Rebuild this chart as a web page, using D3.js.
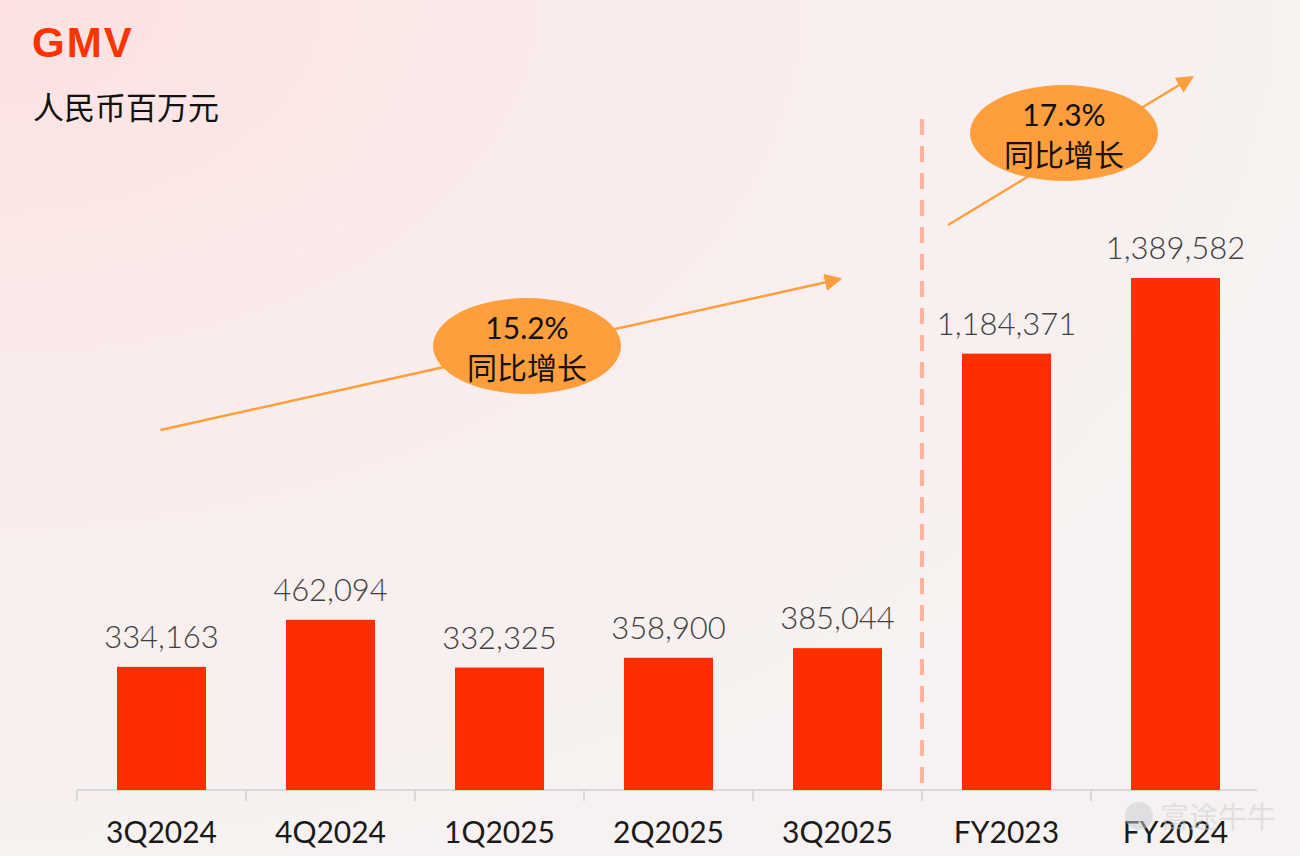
<!DOCTYPE html>
<html>
<head>
<meta charset="utf-8">
<script src="https://cdn.jsdelivr.net/npm/d3@7/dist/d3.min.js"></script>
<style>
  html, body { margin: 0; padding: 0; overflow: hidden; }
  svg { display: block; }
</style>
</head>
<body>
<svg id="chart" width="1300" height="856"></svg>
<script>
// ---- data ----
const categories = ["3Q2024", "4Q2024", "1Q2025", "2Q2025", "3Q2025", "FY2023", "FY2024"];
const gmvValues = [334163, 462094, 332325, 358900, 385044, 1184371, 1389582];
const growthLabels = ["15.2%", "17.3%"];
const growthText = "同比增长";
const titleText = "GMV";
const unitText = "人民币百万元";

// ---- layout ----
const W = 1300, H = 856;
const svg = d3.select("#chart");

// background gradient
const defs = svg.append("defs");
const bg = defs.append("radialGradient").attr("id", "bg")
  .attr("cx", 0).attr("cy", 0).attr("r", 1.1)
  .attr("gradientUnits", "objectBoundingBox");
bg.append("stop").attr("offset", "0%").attr("stop-color", "#FDE1E1");
bg.append("stop").attr("offset", "45%").attr("stop-color", "#F9EDEC");
bg.append("stop").attr("offset", "100%").attr("stop-color", "#F7F2F2");
svg.append("rect").attr("width", W).attr("height", H).attr("fill", "url(#bg)");

const orange = "#FF9E3D";
defs.append("marker").attr("id", "arrow")
  .attr("viewBox", "0 0 10 10").attr("refX", 9).attr("refY", 5)
  .attr("markerWidth", 7).attr("markerHeight", 7)
  .attr("markerUnits", "strokeWidth")
  .attr("orient", "auto")
  .append("path").attr("d", "M0,0 L10,5 L0,10 Z").attr("fill", orange);

const x = d3.scaleBand().domain(categories).range([77, 1260])
  .paddingInner(0.4734).paddingOuter(0.2367);
const y = d3.scaleLinear().domain([0, 1600000]).range([790, 200.5]);
const step = x.step();
const gap = step - x.bandwidth();

// title
svg.append("text").attr("x", 32).attr("y", 57)
  .attr("font-family", "Liberation Sans, Arial, sans-serif")
  .attr("font-weight", "bold").attr("font-size", 42)
  .attr("letter-spacing", 2)
  .attr("fill", "#FF3300").text(titleText);
svg.append("text").attr("x", 33).attr("y", 119)
  .attr("font-family", "Noto Sans CJK SC, sans-serif")
  .attr("font-size", 31).attr("fill", "#111").text(unitText);

// dashed separator before FY columns
const sepX = x("FY2023") - gap / 2;
svg.append("line").attr("x1", sepX).attr("x2", sepX)
  .attr("y1", 119).attr("y2", 790)
  .attr("stroke", "#FFB39C").attr("stroke-width", 4)
  .attr("stroke-dasharray", "16,11");

// axis baseline & ticks
const axisColor = "#D9D9D9";
svg.append("line").attr("x1", 77).attr("x2", 1257)
  .attr("y1", 790).attr("y2", 790)
  .attr("stroke", axisColor).attr("stroke-width", 2);
svg.selectAll(".tick").data(categories).enter().append("line")
  .attr("x1", d => x(d) - gap / 2).attr("x2", d => x(d) - gap / 2)
  .attr("y1", 790).attr("y2", 801)
  .attr("stroke", axisColor).attr("stroke-width", 2);

// bars
svg.selectAll(".bar").data(categories).enter().append("rect")
  .attr("x", d => x(d))
  .attr("y", (d, i) => y(gmvValues[i]))
  .attr("width", x.bandwidth())
  .attr("height", (d, i) => 790 - y(gmvValues[i]))
  .attr("fill", "#FF2D00");

// value labels
const fmt = d3.format(",");
svg.selectAll(".val").data(categories).enter().append("text")
  .attr("x", d => x(d) + x.bandwidth() / 2)
  .attr("y", (d, i) => y(gmvValues[i]) - 19)
  .attr("text-anchor", "middle")
  .attr("font-family", "Lato, sans-serif").attr("font-size", 31)
  .attr("font-weight", 300)
  .attr("fill", "#3F3F3F")
  .text((d, i) => fmt(gmvValues[i]));

// category labels
svg.selectAll(".cat").data(categories).enter().append("text")
  .attr("x", d => x(d) + x.bandwidth() / 2)
  .attr("y", 843)
  .attr("text-anchor", "middle")
  .attr("font-family", "Lato, sans-serif").attr("font-size", 30)
  .attr("fill", "#1A1A1A")
  .text(d => d);

// growth annotations
const cx = c => x(c) + x.bandwidth() / 2;
const annotations = [
  { x1: cx("3Q2024") - 1, y1: 430, x2: cx("3Q2025") + 3, y2: 279, ex: 527, ey: 346, label: growthLabels[0] },
  { x1: sepX + 26, y1: 225, x2: cx("FY2024") + 17, y2: 77, ex: 1064, ey: 133, label: growthLabels[1] }
];
annotations.forEach(a => {
  svg.append("line").attr("x1", a.x1).attr("y1", a.y1)
    .attr("x2", a.x2).attr("y2", a.y2)
    .attr("stroke", orange).attr("stroke-width", 2.5)
    .attr("marker-end", "url(#arrow)");
  svg.append("ellipse").attr("cx", a.ex).attr("cy", a.ey)
    .attr("rx", 94).attr("ry", 48).attr("fill", orange);
  svg.append("text").attr("x", a.ex).attr("y", a.ey - 7)
    .attr("text-anchor", "middle")
    .attr("font-family", "Lato, sans-serif").attr("font-size", 30)
    .attr("fill", "#111").text(a.label);
  svg.append("text").attr("x", a.ex).attr("y", a.ey + 33)
    .attr("text-anchor", "middle")
    .attr("font-family", "Noto Sans CJK SC, sans-serif").attr("font-size", 30)
    .attr("fill", "#111").text(growthText);
});

// watermark
const wm = svg.append("g").attr("opacity", 0.5);
wm.append("circle").attr("cx", 1139).attr("cy", 816).attr("r", 14).attr("fill", "#C9CED4");
wm.append("text").attr("x", 1160).attr("y", 828)
  .attr("font-family", "Noto Sans CJK SC, sans-serif").attr("font-size", 29)
  .attr("fill", "#C9CED4").text("富途牛牛");
</script>
</body>
</html>
